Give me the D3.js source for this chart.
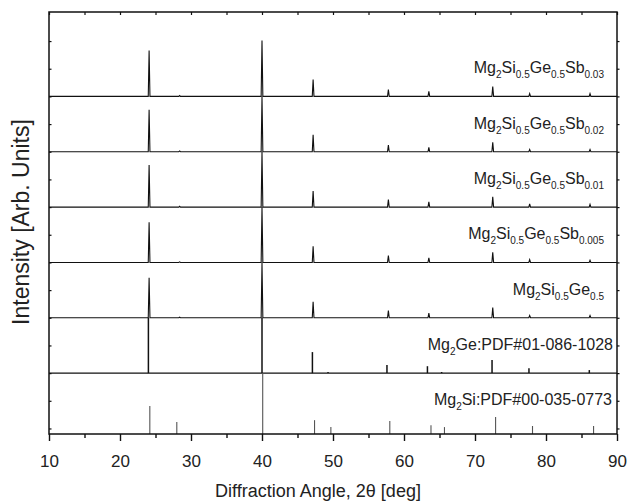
<!DOCTYPE html>
<html><head><meta charset="utf-8">
<script src="https://cdn.jsdelivr.net/npm/d3@7"></script>
<style>body{margin:0;background:#fff}svg{display:block}text{font-family:"Liberation Sans",Arial,sans-serif;fill:#222}</style>
</head><body><svg id="c" width="628" height="504"></svg>
<script>
// ---- data ----
const xTicks = [10,20,30,40,50,60,70,80,90];
const samplePeaks = [24.1, 28.4, 40.0, 47.2, 57.8, 63.5, 72.5, 77.7, 86.2];
const sampleOffsets = [12, 10, 8, 6, 4];
const sampleLabels = ["Mg_2Si_0.5Ge_0.5Sb_0.03","Mg_2Si_0.5Ge_0.5Sb_0.02","Mg_2Si_0.5Ge_0.5Sb_0.01","Mg_2Si_0.5Ge_0.5Sb_0.005","Mg_2Si_0.5Ge_0.5"];
const sampleHeights = [
  [1.66, 0.03, 2.02, 0.61, 0.25, 0.18, 0.36, 0.10, 0.10],
  [1.52, 0.03, 2.00, 0.61, 0.24, 0.16, 0.34, 0.08, 0.08],
  [1.52, 0.03, 2.00, 0.58, 0.27, 0.19, 0.37, 0.12, 0.10],
  [1.45, 0.02, 2.00, 0.58, 0.25, 0.17, 0.37, 0.10, 0.08],
  [1.45, 0.02, 2.00, 0.58, 0.26, 0.17, 0.37, 0.08, 0.08]
];
const geOffset = 2;
const geLabel = "Mg_2Ge:PDF#01-086-1028";
const gePos = [24.0, 40.0, 47.1, 49.3, 57.6, 63.3, 65.3, 72.4, 77.6, 86.1];
const geHeights = [2.0, 2.0, 0.76, 0.04, 0.29, 0.25, 0.04, 0.47, 0.18, 0.11];
const siOffset = -0.2;
const siLabel = "Mg_2Si:PDF#00-035-0773";
const siPos = [24.2, 28.0, 40.1, 47.4, 49.7, 58.0, 63.8, 65.7, 72.9, 78.1, 86.7];
const siHeights = [1.01, 0.43, 2.2, 0.5, 0.25, 0.47, 0.32, 0.25, 0.61, 0.29, 0.29];

// ---- layout ----
const L=49, R=617, T=12, B=434;
const svg = d3.select("#c");
const x = d3.scaleLinear().domain([10,90]).range([L,R]);
const y = d3.scaleLinear().domain([-0.2,15.05]).range([B,T]);
const g = svg.append("g");

// sample patterns: baseline + narrow peaks
const hw = 0.12;
sampleOffsets.forEach((off,i)=>{
  const pts = [[10,off]];
  samplePeaks.forEach((p,j)=>{ pts.push([p-hw,off],[p,off+sampleHeights[i][j]],[p+hw,off]); });
  pts.push([90,off]);
  g.append("path").attr("d", d3.line().x(d=>x(d[0])).y(d=>y(d[1]))(pts))
    .attr("fill","none").attr("stroke","#111").attr("stroke-width",1.1);
});
// Mg2Ge sticks
g.append("line").attr("x1",x(10)).attr("x2",x(90)).attr("y1",y(geOffset)).attr("y2",y(geOffset)).attr("stroke","#111").attr("stroke-width",1.2);
g.selectAll(".ge").data(gePos).join("line")
  .attr("x1",d=>x(d)).attr("x2",d=>x(d)).attr("y1",y(geOffset)).attr("y2",(d,i)=>y(geOffset+geHeights[i]))
  .attr("stroke","#111").attr("stroke-width",1.5);
// Mg2Si sticks
g.selectAll(".si").data(siPos).join("line")
  .attr("x1",d=>x(d)).attr("x2",d=>x(d)).attr("y1",y(siOffset)).attr("y2",(d,i)=>y(siOffset+siHeights[i]))
  .attr("stroke","#555").attr("stroke-width",1.1);

// frame
svg.append("rect").attr("x",L).attr("y",T).attr("width",R-L).attr("height",B-T).attr("fill","none").attr("stroke","#111").attr("stroke-width",1.5);

// axes
const minor = d3.range(10,91,5);
const yTickVals = d3.range(0,15,1);
svg.append("g").attr("transform",`translate(0,${B})`)
  .call(d3.axisBottom(x).tickValues(xTicks).tickSize(7).tickPadding(14).tickFormat(d3.format("d")))
  .call(a=>{a.select(".domain").remove(); a.selectAll("line").attr("stroke","#111").attr("stroke-width",1.4);
    a.selectAll("text").attr("font-size",17).attr("fill","#222").style("font-family","Liberation Sans, Arial, sans-serif");});
svg.append("g").attr("transform",`translate(0,${B})`)
  .call(d3.axisBottom(x).tickValues(minor.filter(v=>v%10)).tickSize(4).tickFormat(""))
  .call(a=>{a.select(".domain").remove(); a.selectAll("line").attr("stroke","#111").attr("stroke-width",1.4);});
svg.append("g").attr("transform",`translate(0,${T})`)
  .call(d3.axisBottom(x).tickValues(minor).tickSize(3).tickFormat(""))
  .call(a=>{a.select(".domain").remove(); a.selectAll("line").attr("stroke","#111").attr("stroke-width",1.2);});
svg.append("g").attr("transform",`translate(${L},0)`)
  .call(d3.axisRight(y).tickValues(yTickVals).tickSize(2.5).tickFormat(""))
  .call(a=>{a.select(".domain").remove(); a.selectAll("line").attr("stroke","#111").attr("stroke-width",1.2);});
svg.append("g").attr("transform",`translate(${R},0)`)
  .call(d3.axisRight(y).tickValues(yTickVals).tickSize(2.5).tickFormat(""))
  .call(a=>{a.select(".domain").remove(); a.selectAll("line").attr("stroke","#111").attr("stroke-width",1.2);});

// labels
function label(str, xr, yb){
  const t = svg.append("text").attr("x",xr).attr("y",yb).attr("text-anchor","end").attr("font-size",16);
  const parts = str.split(/_([\d.]+)/);
  let sub=false;
  parts.forEach((p,i)=>{
    if(!p) return;
    if(i%2===1){ t.append("tspan").attr("font-size",10).attr("dy",5).text(p); sub=true; }
    else { const ts=t.append("tspan").text(p); if(sub){ts.attr("dy",-5); sub=false;} }
  });
}
sampleOffsets.forEach((off,i)=> label(sampleLabels[i], 604, y(off)-23));
label(geLabel, 613, y(geOffset)-23);
label(siLabel, 612, y(siOffset)-29);

svg.append("text").attr("x",318).attr("y",497).attr("text-anchor","middle").attr("font-size",18).text("Diffraction Angle, 2θ [deg]");
svg.append("text").attr("transform",`translate(29,222) rotate(-90)`).attr("text-anchor","middle").attr("font-size",23).text("Intensity [Arb. Units]");
</script></body></html>
